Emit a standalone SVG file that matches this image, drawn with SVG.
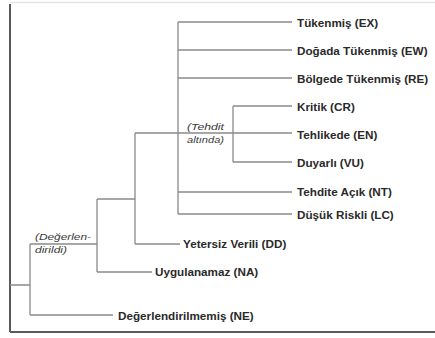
<svg xmlns="http://www.w3.org/2000/svg" width="435" height="338" viewBox="0 0 435 338">
<style>
.ln{stroke:#8a8a8a;stroke-width:1.3;fill:none}
.bd{stroke:#5a5a5a;stroke-width:2;fill:none}
.lb{font-family:"Liberation Sans",Arial,sans-serif;font-weight:bold;font-size:11.7px;fill:#2a2a2a}
.it{font-family:"Liberation Sans",Arial,sans-serif;font-style:italic;font-size:9px;fill:#3a3a3a}
</style>
<rect width="435" height="338" fill="#fff"/>
<g id="frame">
<line x1="10" y1="2.5" x2="435" y2="2.5" stroke="#e4e4e4" stroke-width="1.5"/>
<line class="bd" x1="10" y1="4" x2="10" y2="332"/>
<line class="bd" x1="10" y1="332" x2="435" y2="332"/>
</g>
<g id="connectors">
<path class="ln" d="M10 285H30M30 244V315M30 244H97M30 315H113M97 199V272M97 199H135M97 272H152M135 133V244M135 244H180M135 133H292M178 22V214M178 22H292M178 50H292M178 78H292M178 192H292M178 214H292M233 106V162M233 106H292M233 162H292"/>
</g>
<g id="n-ex"><text class="lb" x="297" y="27">Tükenmiş (EX)</text></g>
<g id="n-ew"><text class="lb" x="297" y="55">Doğada Tükenmiş (EW)</text></g>
<g id="n-re"><text class="lb" x="297" y="83">Bölgede Tükenmiş (RE)</text></g>
<g id="n-cr"><text class="lb" x="297" y="111">Kritik (CR)</text></g>
<g id="n-en"><text class="lb" x="297" y="139">Tehlikede (EN)</text></g>
<g id="n-vu"><text class="lb" x="297" y="167">Duyarlı (VU)</text></g>
<g id="n-nt"><text class="lb" x="297" y="196">Tehdite Açık (NT)</text></g>
<g id="n-lc"><text class="lb" x="297" y="219">Düşük Riskli (LC)</text></g>
<g id="n-dd"><text class="lb" x="183" y="248">Yetersiz Verili (DD)</text></g>
<g id="n-na"><text class="lb" x="155" y="276">Uygulanamaz (NA)</text></g>
<g id="n-ne"><text class="lb" x="118" y="320">Değerlendirilmemiş (NE)</text></g>
<g id="g-threat"><text class="it" x="187" y="130" textLength="37" lengthAdjust="spacingAndGlyphs">(Tehdit</text><text class="it" x="187" y="143" textLength="37" lengthAdjust="spacingAndGlyphs">altında)</text></g>
<g id="g-eval"><text class="it" x="35" y="240" textLength="56" lengthAdjust="spacingAndGlyphs">(Değerlen-</text><text class="it" x="35" y="253" textLength="32" lengthAdjust="spacingAndGlyphs">dirildi)</text></g>
</svg>
